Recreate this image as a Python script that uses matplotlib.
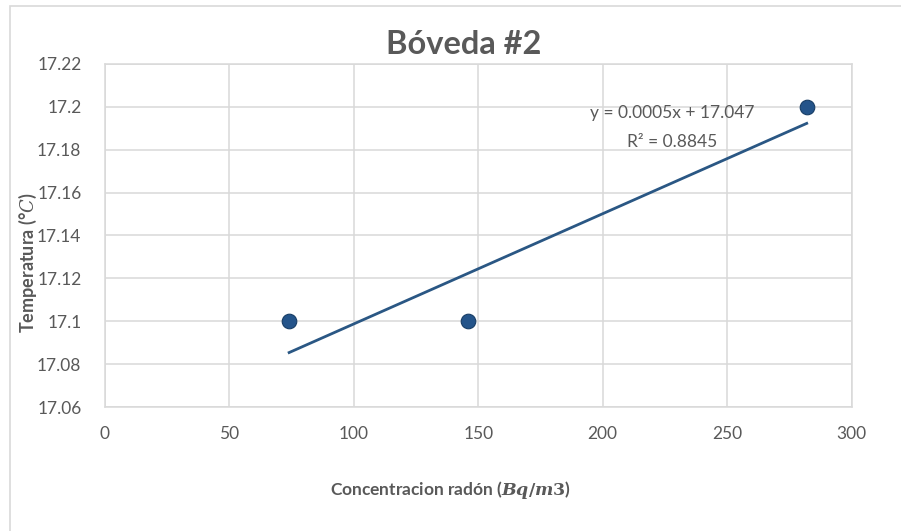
import numpy as np
import matplotlib
matplotlib.use("Agg")
import matplotlib.pyplot as plt
from matplotlib.patches import Rectangle

# Radon concentration vs. vault temperature
radon = [74, 145.8, 282]
temperature = [17.1, 17.1, 17.2]

x_ticks = [0, 50, 100, 150, 200, 250, 300]
y_ticks = [17.06, 17.08, 17.10, 17.12, 17.14, 17.16, 17.18, 17.20, 17.22]
y_tick_labels = ["17.06", "17.08", "17.1", "17.12", "17.14", "17.16", "17.18", "17.2", "17.22"]

TEXT = "#595959"
GRID = "#d9d9d9"
BLUE = "#2a5784"

plt.rcParams["font.family"] = ["Lato", "DejaVu Sans"]
plt.rcParams["mathtext.fontset"] = "dejavuserif"

fig = plt.figure(figsize=(9.01, 5.31), dpi=100)
fig.patches.append(Rectangle((10 / 901, -0.1), 1.2, 1.1 - 6 / 531,
                             transform=fig.transFigure, fill=False,
                             edgecolor=GRID, linewidth=1.2))

ax = fig.add_axes([105 / 901, 1 - 407 / 531, (851.5 - 105) / 901, (407 - 64) / 531])
ax.set_xlim(0, 300)
ax.set_ylim(17.06, 17.22)
ax.set_xticks(x_ticks)
ax.set_yticks(y_ticks)
ax.set_yticklabels(y_tick_labels)
ax.grid(True, color=GRID, linewidth=1.1)
ax.set_axisbelow(True)
for s in ax.spines.values():
    s.set_color(GRID)
    s.set_linewidth(1.1)
ax.tick_params(length=0, colors=TEXT, labelsize=12.5)
ax.tick_params(axis="y", pad=17)
ax.tick_params(axis="x", pad=14)

# linear trendline over the data range
x = np.array(radon)
y = np.array(temperature)
slope, intercept = np.polyfit(x, y, 1)
fit = slope * x + intercept
r2 = 1 - np.sum((y - fit) ** 2) / np.sum((y - y.mean()) ** 2)
xs = np.array([x.min(), x.max()])
ax.plot(xs, slope * xs + intercept, color=BLUE, linewidth=2, zorder=2)

ax.plot(radon, temperature, "o", markersize=10.5, color="#24548a",
        markeredgecolor="#173d66", markeredgewidth=0.8, zorder=3)

ax.text(228, 17.197, f"y = {slope:.4f}x + {intercept:.3f}", ha="center", va="center",
        color=TEXT, fontsize=12.5)
ax.text(228, 17.1835, f"R² = {r2:.4f}", ha="center", va="center",
        color=TEXT, fontsize=12.5)

fig.text(0.515, 1 - 45 / 531, "Bóveda #2", ha="center", va="center",
         fontsize=23.5, fontweight="bold", color=TEXT)
fig.text(0.5, 1 - 490 / 531, r"Concentracion radón ($\boldsymbol{Bq/m3}$)",
         ha="center", va="center", fontsize=12.5, fontweight="bold", color=TEXT)
fig.text(28 / 901, 1 - 263 / 531, r"Temperatura (°$\mathit{C}$)", rotation=90,
         ha="center", va="center", fontsize=13, fontweight="bold", color=TEXT)

fig.savefig("out.png", dpi=100)
